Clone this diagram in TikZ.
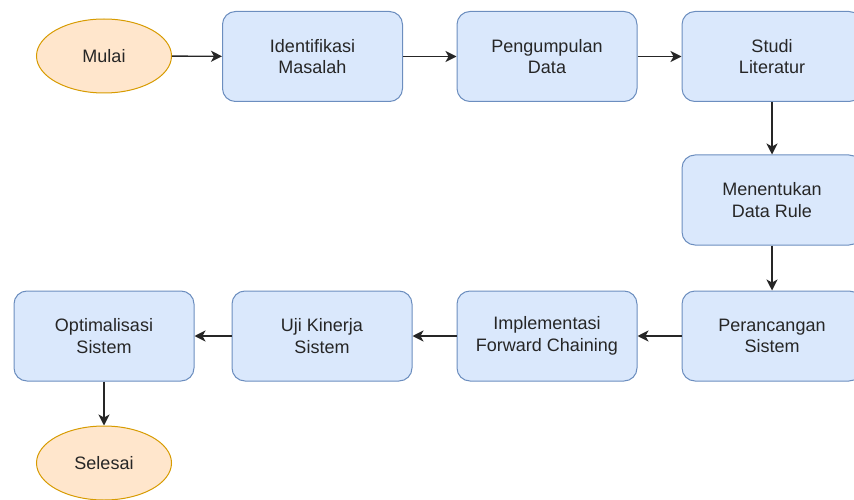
\documentclass[tikz,border=0pt]{standalone}
\usepackage{fontspec}
\setmainfont{Liberation Sans}
\usepackage{tikz}
\usetikzlibrary{arrows.meta, positioning, shapes.geometric}
\usepackage{xcolor}
\definecolor{bleuclair}{HTML}{DAE8FC}
\definecolor{bleubord}{HTML}{6C8EBF}
\definecolor{orangeclair}{HTML}{FFE6CC}
\definecolor{orangebord}{HTML}{D79B00}
\tikzset{
    proses/.style={rectangle, rounded corners=13pt, draw=bleubord, fill=bleuclair, line width=1pt,
        minimum width=180pt, minimum height=90pt, align=center, text=black!85,
        font=\fontsize{18}{21.5}\selectfont},
    terminal/.style={ellipse, draw=orangebord, fill=orangeclair, line width=1pt,
        minimum width=135pt, minimum height=74pt, text=black!85, font=\fontsize{18}{21.5}\selectfont},
    panah/.style={-{Stealth[length=11pt, width=11pt, inset=3pt]}, line width=1.4pt, black!85},
}

\begin{document}
\begin{tikzpicture}[x=1pt, y=-1pt]
\useasboundingbox (0,0) rectangle (854,500);
% Baris atas
\node[terminal] (mulai) at (104,56) {Mulai};
\node[proses] (identifikasi) at (312.5,56.5) {Identifikasi\\Masalah};
\node[proses] (pengumpulan) at (547,56.5) {Pengumpulan\\Data};
\node[proses] (studi) at (772,56.5) {Studi\\Literatur};
% Kolom kanan
\node[proses] (rule) at (772,200) {Menentukan\\Data Rule};
\node[proses] (perancangan) at (772,336) {Perancangan\\Sistem};
% Baris bawah
\node[proses] (implementasi) at (547,336) {Implementasi\\Forward Chaining};
\node[proses] (uji) at (322,336) {Uji Kinerja\\Sistem};
\node[proses] (optimalisasi) at (104,336) {Optimalisasi\\Sistem};
\node[terminal] (selesai) at (104,463) {Selesai};
% Panah alur
\draw[panah] (mulai) -- (identifikasi);
\draw[panah] (identifikasi) -- (pengumpulan);
\draw[panah] (pengumpulan) -- (studi);
\draw[panah] (studi) -- (rule);
\draw[panah] (rule) -- (perancangan);
\draw[panah] (perancangan) -- (implementasi);
\draw[panah] (implementasi) -- (uji);
\draw[panah] (uji) -- (optimalisasi);
\draw[panah] (optimalisasi) -- (selesai);
\end{tikzpicture}
\end{document}
